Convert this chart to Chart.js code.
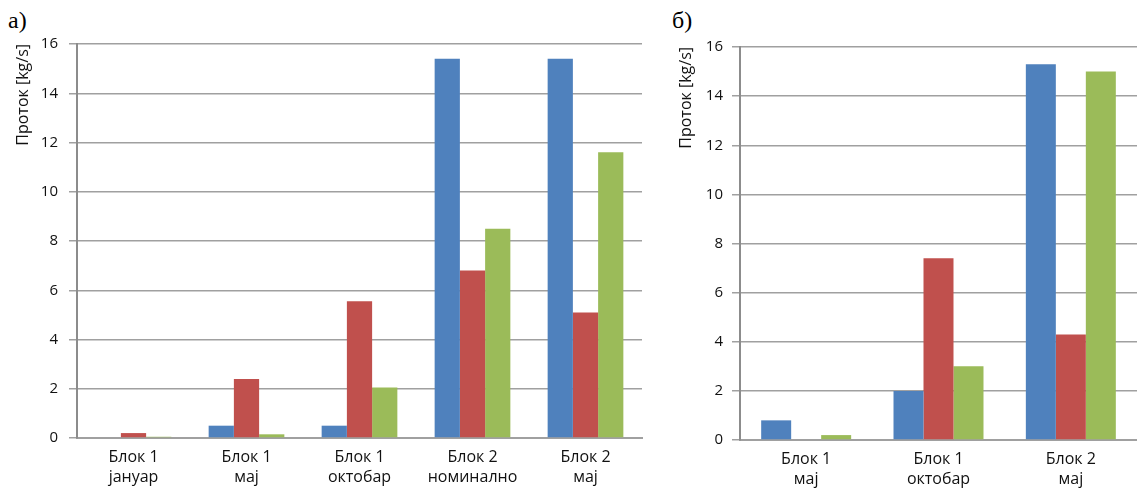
<!DOCTYPE html>
<html>
<head>
<meta charset="utf-8">
<script src="https://cdn.jsdelivr.net/npm/chart.js@4.4.1/dist/chart.umd.min.js"></script>
<style>
    body { margin: 0; background: #fff; width: 1137px; height: 488px; position: relative; overflow: hidden; }
    canvas { position: absolute; top: 0; }
    .tag { position: absolute; font-family: "Liberation Serif", "DejaVu Serif", serif; font-size: 24px; color: #000; line-height: 1; }
</style>
</head>
<body>
<div class="tag" style="left:8px;top:8px">а)</div>
<div class="tag" style="left:672px;top:8px">б)</div>
<canvas id="chart-a" width="648" height="488" style="left:0"></canvas>
<canvas id="chart-b" width="477" height="488" style="left:660px"></canvas>
<script>
// Panel a)
const categoriesA = [
    ['Блок 1', 'јануар'],
    ['Блок 1', 'мај'],
    ['Блок 1', 'октобар'],
    ['Блок 2', 'номинално'],
    ['Блок 2', 'мај']
];
const blueA  = [0,    0.5,  0.5,  15.4, 15.4];
const redA   = [0.2,  2.4,  5.55, 6.8,  5.1];
const greenA = [0.05, 0.15, 2.05, 8.5,  11.6];

// Panel б)
const categoriesB = [
    ['Блок 1', 'мај'],
    ['Блок 1', 'октобар'],
    ['Блок 2', 'мај']
];
const blueB  = [0.8, 2.0, 15.3];
const redB   = [0,   7.4, 4.3];
const greenB = [0.2, 3.0, 15.0];

const yTicks = [0, 2, 4, 6, 8, 10, 12, 14, 16];
const yTitle = 'Проток [kg/s]';

const colors = ['#4f81bd', '#c0504d', '#9bbb59'];
const font = 'Open Sans';
const textColor = '#111';

function makeChart(id, labels, series, box) {
    const ctx = document.getElementById(id);
    return new Chart(ctx, {
        type: 'bar',
        data: {
            labels: labels,
            datasets: series.map((data, i) => ({
                label: 'S' + (i + 1),
                data: data,
                backgroundColor: colors[i],
                borderWidth: 0,
                barPercentage: 1,
                categoryPercentage: box.catPct
            }))
        },
        options: {
            responsive: false,
            animation: false,
            layout: {
                padding: { top: box.top, right: box.right, left: 0, bottom: 0 }
            },
            plugins: {
                legend: { display: false },
                tooltip: { enabled: false }
            },
            scales: {
                x: {
                    grid: { display: false },
                    border: { color: '#a0a0a0', width: 2 },
                    ticks: {
                        color: textColor,
                        font: { family: font, size: 16, lineHeight: 1.25 },
                        padding: 1,
                        maxRotation: 0,
                        autoSkip: false
                    },
                    afterFit: s => { s.height = box.canvasH - box.bottom; }
                },
                y: {
                    min: yTicks[0],
                    max: yTicks[yTicks.length - 1],
                    afterBuildTicks: s => { s.ticks = yTicks.map(v => ({ value: v })); },
                    grid: { color: '#a0a0a0', lineWidth: 1.5, tickLength: 8 },
                    border: { color: '#8c8c8c', width: 2 },
                    ticks: {
                        color: textColor,
                        font: { family: font, size: 15 },
                        padding: box.tickPad
                    },
                    title: {
                        display: true,
                        text: yTitle,
                        align: 'end',
                        color: textColor,
                        font: { family: font, size: 16 },
                        padding: { top: box.titleOff, bottom: 0 }
                    },
                    afterFit: s => { s.width = box.axisX; }
                }
            }
        }
    });
}

makeChart('chart-a', categoriesA, [blueA, redA, greenA],
    { top: 44, right: 6, bottom: 438, canvasH: 488, axisX: 77, catPct: 0.67, tickPad: 11, titleOff: 14 });
makeChart('chart-b', categoriesB, [blueB, redB, greenB],
    { top: 47, right: 0, bottom: 440, canvasH: 488, axisX: 80, catPct: 0.68, tickPad: 9, titleOff: 17 });
</script>
</body>
</html>
